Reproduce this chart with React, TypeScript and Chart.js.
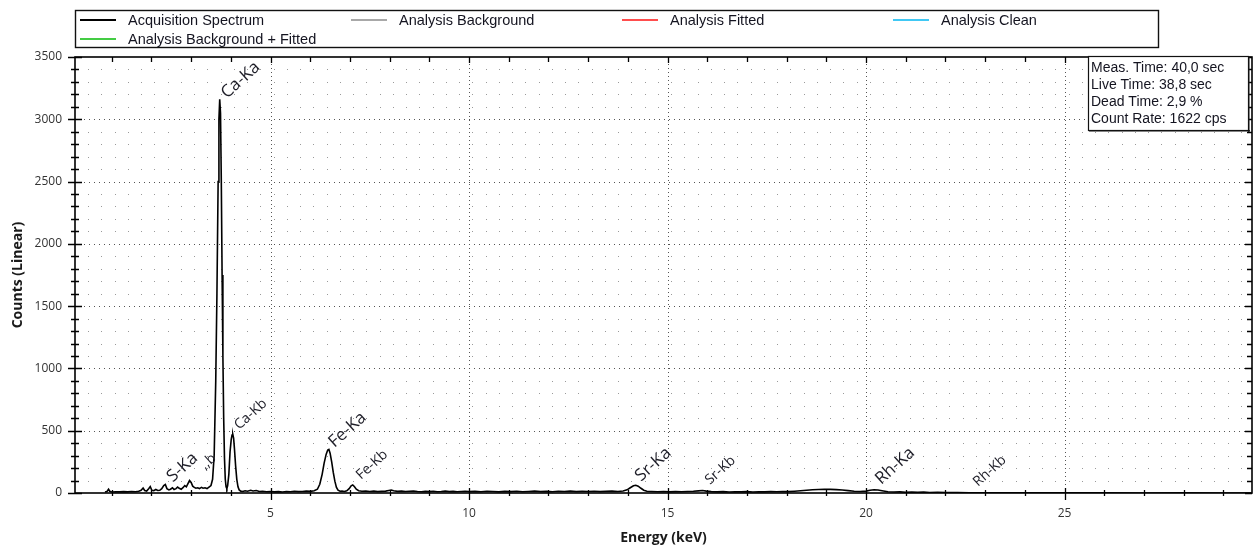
import React, { useEffect, useRef } from 'react';
import { Chart, registerables } from 'chart.js';

Chart.register(...registerables);

// ---- Spectrum data (energy in keV, counts) ----
const energyKeV = [
  0.83, 0.88, 0.92, 0.95, 1.0, 1.1, 1.2, 1.3, 1.4, 1.5, 1.6, 1.68, 1.74, 1.79, 1.83, 1.88, 1.93, 1.97, 2.01, 2.06,
  2.11, 2.16, 2.21, 2.26, 2.31, 2.35, 2.39, 2.44, 2.48, 2.53, 2.57, 2.62, 2.66, 2.7, 2.75, 2.8, 2.84, 2.88, 2.92, 2.96,
  3.0, 3.04, 3.08, 3.12, 3.17, 3.21, 3.26, 3.3, 3.35, 3.4, 3.45, 3.5, 3.54, 3.58, 3.62, 3.65, 3.68, 3.7, 3.72, 3.74,
  3.76, 3.78, 3.8, 3.82, 3.84, 3.86, 3.88, 3.9, 3.92, 3.95, 3.98, 4.01, 4.03, 4.05, 4.07, 4.09, 4.12, 4.15, 4.18, 4.21,
  4.25, 4.3, 4.36, 4.42, 4.5, 4.56, 4.64, 4.72, 4.8, 4.9, 5.0, 5.1, 5.2, 5.3, 5.4, 5.5, 5.6, 5.7, 5.8, 5.9,
  6.0, 6.1, 6.18, 6.24, 6.3, 6.35, 6.4, 6.44, 6.47, 6.5, 6.54, 6.58, 6.62, 6.66, 6.7, 6.75, 6.8, 6.86, 6.92, 6.98,
  7.03, 7.07, 7.11, 7.16, 7.22, 7.3, 7.4, 7.5, 7.6, 7.7, 7.8, 7.9, 7.98, 8.04, 8.1, 8.2, 8.3, 8.4, 8.5, 8.6,
  8.7, 8.8, 8.9, 9.0, 9.1, 9.2, 9.3, 9.4, 9.5, 9.6, 9.7, 9.8, 9.9, 10.0, 10.15, 10.3, 10.45, 10.6, 10.75, 10.9,
  11.05, 11.2, 11.35, 11.5, 11.65, 11.8, 11.95, 12.1, 12.25, 12.4, 12.55, 12.7, 12.85, 13.0, 13.15, 13.3, 13.45, 13.6, 13.75, 13.88,
  13.98, 14.06, 14.14, 14.2, 14.26, 14.33, 14.4, 14.48, 14.6, 14.75, 14.9, 15.05, 15.2, 15.35, 15.5, 15.65, 15.78, 15.88, 15.98, 16.1,
  16.25, 16.4, 16.55, 16.7, 16.85, 17.0, 17.15, 17.3, 17.45, 17.6, 17.75, 17.9, 18.05, 18.2, 18.35, 18.5, 18.65, 18.8, 18.95, 19.1,
  19.25, 19.4, 19.55, 19.7, 19.85, 20.0, 20.1, 20.2, 20.3, 20.4, 20.55, 20.7, 20.85, 21.0, 21.15, 21.3, 21.45, 21.6, 21.8, 22.0,
  22.3, 22.6, 23.0, 23.5, 24.0, 25.0, 26.0, 27.0, 28.0, 29.0, 29.7,
];
const acquisitionCounts = [
  8, 12, 30, 14, 8, 10, 9, 11, 9, 12, 10, 14, 22, 40, 20, 16, 35, 52, 22, 18,
  28, 20, 22, 35, 60, 68, 35, 25, 30, 42, 28, 35, 48, 38, 30, 45, 60, 50, 75, 100,
  85, 55, 45, 38, 42, 35, 45, 38, 42, 36, 48, 60, 110, 300, 900, 1600, 2500, 3000, 3160, 3050,
  2500, 1750, 1100, 600, 280, 110, 50, 35, 60, 150, 330, 430, 465, 470, 440, 360, 220, 110, 50, 25,
  15, 12, 18, 14, 22, 16, 20, 12, 14, 10, 12, 9, 11, 8, 12, 10, 14, 11, 12, 15,
  13, 18, 30, 70, 150, 240, 310, 345, 350, 320, 250, 165, 95, 45, 22, 14, 16, 12, 18, 35,
  58, 65, 52, 30, 18, 14, 16, 12, 15, 11, 13, 15, 20, 24, 18, 13, 15, 12, 14, 16,
  12, 10, 13, 11, 14, 10, 12, 15, 11, 13, 10, 12, 14, 11, 13, 10, 14, 12, 9, 13,
  11, 14, 10, 12, 15, 11, 13, 10, 14, 12, 15, 11, 13, 12, 14, 11, 13, 15, 12, 16,
  25, 42, 58, 62, 55, 38, 22, 14, 12, 10, 12, 9, 11, 10, 12, 14, 17, 20, 15, 11,
  9, 11, 8, 10, 9, 11, 8, 10, 9, 11, 10, 12, 11, 14, 18, 22, 26, 28, 30, 29,
  27, 24, 19, 14, 12, 15, 22, 26, 24, 18, 10, 8, 9, 6, 8, 5, 7, 4, 5, 3,
  4, 2, 2, 1, 2, 1, 1, 0, 1, 0, 0,
];

// ---- Series (legend) ----
const seriesLabels = [
  'Acquisition Spectrum',
  'Analysis Background',
  'Analysis Fitted',
  'Analysis Clean',
  'Analysis Background + Fitted',
];
const seriesColors = ['#3a3a3a', '#a8a8a8', '#ff4d4d', '#40c8f4', '#44cc44'];

// ---- Peak labels ----
const peakNames = ['S-Ka', ',,b', 'Ca-Ka', 'Ca-Kb', 'Fe-Ka', 'Fe-Kb', 'Sr-Ka', 'Sr-Kb', 'Rh-Ka', 'Rh-Kb'];
const peakEnergies = [2.385, 3.2, 3.75, 4.06, 6.46, 7.13, 14.18, 15.92, 20.23, 22.67];
const peakCounts = [83, 185, 3163, 505, 361, 104, 88, 64, 64, 48];
const peakMajor = [true, false, true, false, true, false, true, false, true, false];

// ---- Info box ----
const infoLines = ['Meas. Time: 40,0 sec', 'Live Time: 38,8 sec', 'Dead Time: 2,9 %', 'Count Rate: 1622 cps'];

// ---- Axes ----
const xMin = 0.075;
const xMax = 29.72;
const yMin = 0;
const yMax = 3500;
const xTickValues = Array.from({ length: 29 }, (_, i) => i + 1);
const xLabelEvery = 5;
const yStep = 100;
const yLabelEvery = 500;

const overlayPlugin = {
  id: 'overlay',
  beforeDatasetsDraw(chart: any) {
    const { ctx, chartArea, scales } = chart;
    const xs = scales.x;
    const ys = scales.y;
    const { left, right, top, bottom } = chartArea;
    ctx.save();
    // minor dot lattice
    ctx.fillStyle = '#9a9a9a';
    for (let v = yStep; v < yMax; v += yStep) {
      if (v % yLabelEvery === 0) continue;
      const py = Math.round(ys.getPixelForValue(v));
      for (let px = left + 13; px < right - 2; px += 13.25) {
        ctx.fillRect(Math.round(px), py, 1, 1);
      }
    }
    // major horizontal dotted
    ctx.fillStyle = '#555';
    for (let v = yLabelEvery; v < yMax; v += yLabelEvery) {
      const py = Math.round(ys.getPixelForValue(v));
      for (let px = left + 4; px < right - 2; px += 5) ctx.fillRect(Math.round(px), py, 1, 1);
    }
    // major vertical dotted
    for (let v = xLabelEvery; v < xMax; v += xLabelEvery) {
      const px = Math.round(xs.getPixelForValue(v));
      for (let py = top + 3; py < bottom - 2; py += 4) ctx.fillRect(px, Math.round(py), 1, 1);
    }
    ctx.restore();
  },
  afterDatasetsDraw(chart: any) {
    const { ctx, chartArea, scales } = chart;
    const xs = scales.x;
    const ys = scales.y;
    const { left, right, top, bottom } = chartArea;
    ctx.save();
    // frame
    ctx.strokeStyle = '#000';
    ctx.lineWidth = 1.6;
    ctx.strokeRect(left, top, right - left, bottom - top);
    // ticks
    ctx.lineWidth = 1.3;
    ctx.beginPath();
    for (let v = yMin; v <= yMax; v += yStep) {
      const py = Math.round(ys.getPixelForValue(v)) + 0.5;
      const major = v % yLabelEvery === 0;
      const l = major ? 7 : 4;
      ctx.moveTo(left - l, py);
      ctx.lineTo(left + l, py);
      ctx.moveTo(right, py);
      ctx.lineTo(right - (major ? 7 : 5), py);
    }
    xTickValues.forEach((v) => {
      const px = Math.round(xs.getPixelForValue(v)) + 0.5;
      const major = v % xLabelEvery === 0;
      ctx.moveTo(px, bottom - (major ? 5 : 3));
      ctx.lineTo(px, bottom + (major ? 7 : 3));
      ctx.moveTo(px, top);
      ctx.lineTo(px, top + (major ? 6 : 5));
    });
    ctx.stroke();

    // peak labels
    ctx.fillStyle = '#1e1e28';
    ctx.textBaseline = 'alphabetic';
    ctx.textAlign = 'left';
    peakNames.forEach((name, i) => {
      const px = xs.getPixelForValue(peakEnergies[i]);
      const py = ys.getPixelForValue(peakCounts[i]);
      ctx.save();
      ctx.translate(px + 6, py);
      ctx.rotate((-42 * Math.PI) / 180);
      ctx.font = `${peakMajor[i] ? 17 : 14}px "Open Sans"`;
      ctx.fillText(name, 0, 0);
      ctx.restore();
    });

    // legend
    const lgL = 75, lgT = 10, lgR = 1158, lgB = 47;
    ctx.fillStyle = '#fff';
    ctx.fillRect(lgL, lgT, lgR - lgL, lgB - lgT);
    ctx.strokeStyle = '#111';
    ctx.lineWidth = 1.4;
    ctx.strokeRect(lgL + 0.5, lgT + 0.5, lgR - lgL, lgB - lgT);
    ctx.font = '14.5px "Liberation Sans", Arial, sans-serif';
    ctx.textBaseline = 'middle';
    chart.data.datasets.forEach((ds: any, i: number) => {
      const col = i % 4;
      const row = Math.floor(i / 4);
      const x0 = 80 + col * 271;
      const y0 = 20 + row * 19;
      ctx.strokeStyle = ds.borderColor;
      ctx.lineWidth = 2;
      ctx.beginPath();
      ctx.moveTo(x0, y0);
      ctx.lineTo(x0 + 36, y0);
      ctx.stroke();
      ctx.fillStyle = '#141420';
      ctx.fillText(ds.label, x0 + 48, y0 + 1);
    });

    // info box
    const bL = 1088, bT = 56, bR = 1248, bB = 130;
    ctx.fillStyle = '#fff';
    ctx.fillRect(bL, bT, bR - bL, bB - bT);
    ctx.fillStyle = '#222';
    ctx.fillRect(bR, bT + 1, 1.5, bB - bT + 1);
    ctx.fillRect(bL + 1, bB, bR - bL + 1, 1.5);
    ctx.strokeStyle = '#111';
    ctx.lineWidth = 1.2;
    ctx.strokeRect(bL + 0.5, bT + 0.5, bR - bL, bB - bT);
    ctx.font = '14px "Liberation Sans", Arial, sans-serif';
    ctx.fillStyle = '#141420';
    infoLines.forEach((t, i) => ctx.fillText(t, bL + 3, bT + 12 + i * 17));
    ctx.restore();
  },
};

export default function App() {
  const ref = useRef<HTMLCanvasElement | null>(null);
  useEffect(() => {
    if (!ref.current) return;
    const points = energyKeV.map((e, i) => ({ x: e, y: acquisitionCounts[i] }));
    const chart = new Chart(ref.current, {
      type: 'line',
      data: {
        datasets: seriesLabels.map((label, i) => ({
          label,
          data: i === 0 ? points : [],
          borderColor: i === 0 ? '#000' : seriesColors[i],
          borderWidth: 1.6,
          pointRadius: 0,
          tension: 0,
          fill: false,
        })),
      },
      options: {
        animation: false,
        responsive: false,
        devicePixelRatio: 1,
        layout: { padding: { top: 57, right: 3, left: 0, bottom: 0 } },
        plugins: { legend: { display: false }, tooltip: { enabled: false } },
        scales: {
          x: {
            type: 'linear',
            min: xMin,
            max: xMax,
            grid: { display: false, drawTicks: false },
            border: { display: false },
            afterBuildTicks: (scale: any) => {
              scale.ticks = xTickValues.map((v) => ({ value: v }));
            },
            afterFit: (scale: any) => {
              scale.height = 55;
            },
            ticks: {
              autoSkip: false,
              maxRotation: 0,
              padding: 13,
              color: '#333',
              font: { family: '"Open Sans"', size: 12 },
              callback: (v: any) => (Number(v) % xLabelEvery === 0 ? String(v) : ''),
            },
            title: {
              display: true,
              text: 'Energy (keV)',
              color: '#1a1a1a',
              font: { family: '"Open Sans"', size: 14, weight: 'bold' },
              padding: { top: 0, bottom: 2 },
            },
          },
          y: {
            type: 'linear',
            min: yMin,
            max: yMax,
            grid: { display: false, drawTicks: false },
            border: { display: false },
            afterFit: (scale: any) => {
              scale.width = 75;
            },
            ticks: {
              stepSize: yStep,
              autoSkip: false,
              padding: 13,
              color: '#333',
              font: { family: '"Open Sans"', size: 12 },
              callback: (v: any) => (Number(v) % yLabelEvery === 0 ? String(v) : ''),
            },
            title: {
              display: true,
              text: 'Counts (Linear)',
              color: '#1a1a1a',
              font: { family: '"Open Sans"', size: 14, weight: 'bold' },
              padding: { top: 10, bottom: 0 },
            },
          },
        },
      },
      plugins: [overlayPlugin],
    });
    return () => chart.destroy();
  }, []);
  return (
    <div style={{ position: 'fixed', left: 0, top: 0, width: 1255, height: 548, background: '#fff' }}>
      <canvas ref={ref} width={1255} height={548} style={{ display: 'block' }} />
    </div>
  );
}
